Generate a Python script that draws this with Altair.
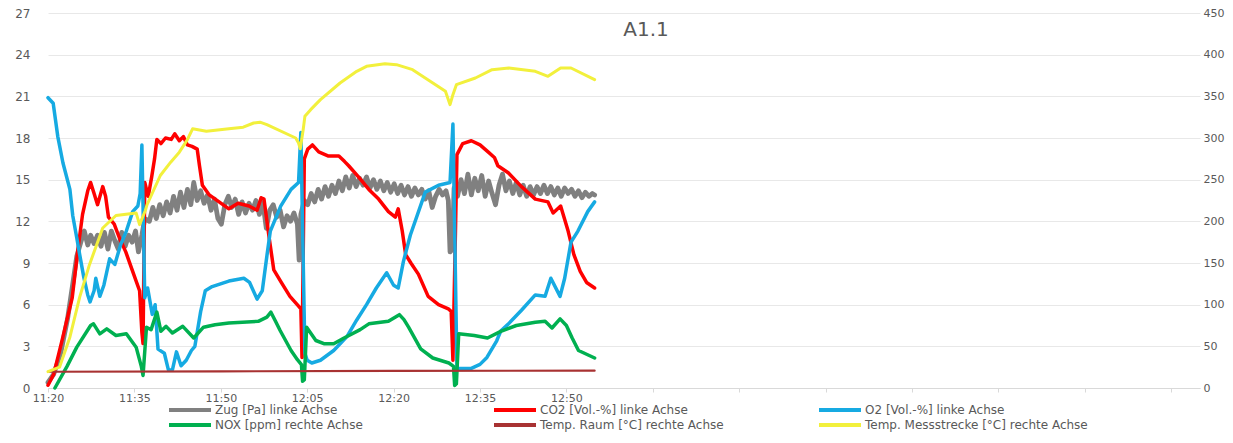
import altair as alt
import pandas as pd

# time = minutes after 11:20
names = ["Zug [Pa] linke Achse", "CO2 [Vol.-%] linke Achse", "O2 [Vol.-%] linke Achse",
         "NOX [ppm] rechte Achse", "Temp. Raum [°C] rechte Achse", "Temp. Messstrecke [°C] rechte Achse"]
colors = ["#808080", "#ff0000", "#16aae2", "#00b050", "#a83232", "#f2f03c"]
widths = [4.8, 3.5, 3.5, 3.5, 2.2, 3]

zug_t = [0, 1, 2.2, 3.4, 4.3, 5.0, 5.7, 6.3, 6.9, 7.4, 8.0, 8.6, 9.2, 9.8, 10.4, 11.0, 11.6, 12.2, 12.8,
         13.4, 14.0, 14.6, 15.2, 15.7, 16.3, 16.8, 17.6, 18.2, 18.8, 19.4, 20.0, 20.6, 21.2, 21.8, 22.4,
         23.0, 23.6, 24.2, 24.8, 25.3, 25.9, 26.5, 27.1, 27.7, 28.3, 28.9, 29.5, 30.1, 30.7, 31.3, 31.9,
         32.5, 33.1, 33.7, 34.3, 34.9, 35.5, 36.1, 36.7, 37.3, 37.9, 38.5, 39.1, 39.7, 40.3, 40.9, 41.5,
         42.1, 42.7, 43.3, 43.6, 43.9, 44.5, 45.1, 45.7, 46.3, 46.9, 47.5, 48.1, 48.7, 49.3, 49.9, 50.5,
         51.1, 51.7, 52.3, 52.9, 53.5, 54.1, 54.7, 55.3, 55.9, 56.5, 57.1, 57.7, 58.3, 58.9, 59.5, 60.1,
         60.7, 61.3, 61.9, 62.5, 63.1, 63.7, 64.3, 64.9, 65.5, 66.1, 66.7, 67.3, 67.9, 68.5, 69.1, 69.5,
         69.8, 70.2, 70.5, 71.1, 71.7, 72.3, 72.9, 73.5, 74.1, 74.7, 75.3, 75.9, 76.5, 77.1, 77.7, 78.3,
         78.9, 79.5, 80.1, 80.7, 81.3, 81.9, 82.5, 83.1, 83.7, 84.3, 84.9, 85.5, 86.1, 86.7, 87.3, 87.9,
         88.5, 89.1, 89.7, 90.3, 90.9, 91.5, 92.1, 92.7, 93.3, 93.9, 94.5, 94.9]
zug_v = [0.4, 1.0, 2.5, 5.0, 7.5, 9.5, 10.5, 11.3, 10.3, 11.0, 10.4, 11.0, 10.2, 11.2, 10.0, 11.3, 10.6,
         10.0, 11.2, 10.2, 11.0, 10.5, 11.3, 9.8, 11.0, 12.2, 12.0, 13.0, 12.2, 13.2, 12.4, 13.4, 12.6,
         13.8, 12.8, 14.1, 13.0, 14.3, 13.2, 14.8, 13.5, 14.2, 13.3, 13.9, 12.8, 13.6, 12.2, 11.8, 13.2,
         13.8, 13.0, 13.6, 12.5, 13.4, 12.6, 13.3, 12.8, 13.5, 12.5, 13.4, 11.5, 12.8, 13.2, 12.3, 12.8,
         11.6, 12.4, 12.0, 12.6, 11.8, 9.2, 12.5, 13.5, 13.2, 14.0, 13.4, 14.3, 13.6, 14.5, 13.8, 14.6,
         14.0, 14.9, 14.2, 15.2, 14.4, 15.3, 14.5, 15.1, 14.6, 15.2, 14.4, 15.0, 14.3, 14.9, 14.2, 14.8,
         14.1, 14.7, 14.0, 14.6, 13.9, 14.5, 13.8, 14.4, 13.9, 14.3, 13.6, 14.2, 13.0, 13.8, 14.3, 13.9,
         14.2, 13.5, 9.8, 10.0, 14.4, 13.8, 15.0, 14.0, 15.4, 13.9, 15.1, 14.2, 15.3, 13.8, 14.9, 14.0,
         13.2, 14.6, 15.4, 14.2, 14.9, 14.0, 14.8, 13.9, 14.6, 13.8, 14.5, 13.9, 14.5, 14.0, 14.6, 14.0,
         14.5, 13.9, 14.4, 13.8, 14.4, 14.0, 14.3, 13.8, 14.2, 13.7, 14.1, 13.8, 14.0, 13.9]

co2_t = [0, 1, 2.6, 4.2, 5.2, 6.0, 6.9, 7.4, 8.0, 8.6, 9.5, 10.0, 10.5, 11.5, 12.4, 13.5, 14.7, 15.9,
         16.3, 16.5, 16.8, 17.4, 18.0, 18.5, 18.9, 19.6, 20.4, 21.4, 22.0, 22.8, 23.5, 24.2, 25.0, 25.9,
         26.3, 26.8, 28.0, 29.7, 31.4, 33.0, 34.9, 36.3, 37.0, 37.5, 38.4, 39.2, 40.5, 42.0, 43.5, 43.9,
         44.1, 44.5, 45.1, 45.9, 47.0, 48.7, 50.5, 51.5, 52.2, 53.9, 55.7, 57.4, 59.1, 60.3, 60.8, 61.5,
         62.1, 63.0, 64.3, 66.0, 67.8, 69.5, 70.0, 70.3, 71.0, 72.0, 73.5, 75.0, 76.4, 77.5, 78.1, 79.9,
         82.2, 84.6, 86.8, 87.7, 89.0, 90.3, 91.3, 92.4, 93.5, 94.9]
co2_v = [0.2, 1.0, 3.7, 6.5, 10.0, 12.5, 14.2, 14.8, 14.0, 13.2, 14.5, 13.8, 12.3, 11.8, 10.8, 9.8, 8.4,
         7.0, 4.0, 3.2, 14.8, 13.8, 15.2, 16.5, 17.9, 17.6, 18.0, 17.9, 18.3, 17.8, 18.1, 17.5, 17.4, 17.2,
         16.0, 14.6, 13.9, 13.4, 12.9, 13.3, 13.1, 12.8, 13.7, 13.6, 10.8, 8.5, 7.6, 6.6, 5.9, 5.7, 2.2,
         16.5, 17.2, 17.5, 17.0, 16.7, 16.7, 16.3, 16.0, 15.2, 14.3, 13.6, 12.7, 12.3, 12.9, 11.3, 9.6,
         9.0, 8.2, 6.6, 6.0, 5.7, 5.5, 2.0, 16.8, 17.6, 17.8, 17.5, 17.0, 16.6, 16.0, 15.5, 14.5, 13.6,
         13.4, 12.6, 13.1, 11.3, 9.6, 8.4, 7.6, 7.2]

o2_t = [0, 0.9, 1.7, 2.6, 3.8, 4.3, 5.0, 5.5, 6.2, 6.9, 7.3, 8.0, 8.3, 9.0, 9.7, 10.7, 11.6, 12.6, 13.6,
        14.7, 15.6, 16.0, 16.3, 16.8, 17.3, 18.1, 18.6, 19.1, 20.2, 20.9, 21.6, 22.3, 23.1, 24.0, 24.9,
        25.5, 26.5, 27.3, 28.5, 31.4, 34.0, 35.0, 36.3, 37.2, 38.0, 38.6, 40.4, 42.2, 43.5, 43.9, 44.6,
        45.0, 45.8, 47.3, 49.6, 51.9, 53.6, 55.3, 57.0, 58.8, 60.0, 60.8, 61.7, 62.9, 65.5, 67.8, 69.8,
        70.3, 71.0, 73.4, 75.0, 76.2, 77.9, 78.6, 79.9, 82.2, 84.6, 86.3, 87.3, 88.9, 89.7, 90.8, 92.0,
        93.7, 94.9]
o2_v = [20.9, 20.5, 18.1, 16.2, 14.3, 12.4, 10.8, 9.6, 8.0, 6.7, 6.2, 7.0, 7.9, 6.6, 7.4, 9.3, 8.9, 10.3,
        11.3, 12.7, 13.1, 14.0, 17.5, 6.5, 7.2, 5.3, 6.0, 2.8, 2.5, 1.3, 1.3, 2.6, 1.6, 2.0, 2.7, 3.0,
        5.5, 7.0, 7.3, 7.7, 7.9, 7.6, 6.4, 7.0, 9.5, 11.3, 13.1, 14.3, 14.8, 18.4, 2.5, 2.0, 1.8, 2.0,
        2.7, 3.7, 4.9, 6.0, 7.2, 8.3, 7.4, 7.2, 9.1, 11.0, 14.1, 14.6, 14.8, 19.0, 1.4, 1.4, 1.7, 2.2,
        3.4, 4.1, 4.6, 5.6, 6.7, 6.6, 7.9, 6.6, 7.9, 10.5, 11.3, 12.7, 13.4]

nox_t = [1.2, 3.3, 5.0, 7.4, 7.9, 9.0, 10.2, 11.8, 13.6, 15.3, 16.2, 16.5, 17.1, 17.9, 18.9, 19.6, 20.5,
         21.6, 23.4, 25.3, 27.0, 29.0, 31.4, 36.5, 38.0, 38.7, 39.5, 40.3, 42.2, 43.3, 44.0, 44.2, 44.5,
         44.9, 46.5, 48.0, 49.6, 51.4, 54.2, 55.7, 59.1, 61.0, 61.8, 62.6, 64.7, 66.8, 69.6, 70.4, 70.6,
         70.9, 71.3, 74.0, 76.3, 78.6, 81.3, 84.6, 86.3, 87.5, 88.9, 90.0, 91.0, 92.1, 94.9]
nox_v = [0, 26, 49, 75, 77, 65, 71, 63, 65, 49, 26, 15, 73, 70, 91, 68, 74, 66, 74, 60, 73, 76, 78, 80,
         85, 91, 80, 69, 45, 34, 28, 8, 10, 73, 57, 53, 53, 60, 70, 77, 80, 88, 82, 73, 47, 36, 30, 26,
         3, 5, 65, 63, 60, 68, 75, 79, 80, 72, 83, 75, 60, 45, 36]

raum_t = [0, 30, 60, 94.9]
raum_v = [19.5, 20.0, 20.5, 20.8]

mess_t = [0, 2.0, 3.8, 5.5, 7.2, 9.5, 11.8, 15.3, 15.9, 16.9, 17.2, 19.5, 21.3, 22.8, 24.2, 25.1, 27.5,
          31.4, 33.9, 35.7, 36.8, 38.0, 43.0, 43.5, 43.8, 44.3, 44.6, 45.6, 47.3, 50.7, 53.6, 55.3, 58.5,
          60.5, 63.3, 69.0, 69.8, 70.3, 70.9, 74.2, 77.1, 80.0, 84.6, 86.8, 89.0, 90.8, 94.9]
mess_v = [19.6, 25, 61, 109, 148, 192, 207, 210, 196, 213, 220, 255, 271, 283, 298, 311, 308, 311, 313,
          318, 319, 316, 300, 294, 287, 310, 326, 334, 346, 366, 380, 386, 389, 388, 382, 356, 340, 352,
          364, 372, 382, 384, 380, 374, 384, 384, 370]

series_t = [zug_t, co2_t, o2_t, nox_t, raum_t, mess_t]
series_v = [zug_v, co2_v, o2_v, nox_v, raum_v, mess_v]

frames = []
for i, (n, ts, vs) in enumerate(zip(names, series_t, series_v)):
    frames.append(pd.DataFrame({"t": ts, "v": vs, "series": n, "idx": range(len(ts))}))

# legend fills column by column (2 rows): order entries so rows read like the reference
legend_order = [0, 3, 1, 4, 2, 5]
dom = [names[i] for i in legend_order]
rng = [colors[i] for i in legend_order]

FONT = "DejaVu Sans"
GREY = "#595959"
PLOT_H = 375

color = alt.Color("series:N", scale=alt.Scale(domain=dom, range=rng),
                  legend=alt.Legend(title=None, orient="none", legendX=135, legendY=PLOT_H + 15,
                                    columns=3,
                                    symbolType="M-4.2,0H4.2", symbolSize=100, symbolStrokeWidth=4,
                                    labelFontSize=12, labelColor=GREY, labelFont=FONT,
                                    columnPadding=48, rowPadding=-2, gridAlign="all",
                                    labelOffset=18, labelLimit=400))

xenc = alt.X("t:Q", scale=alt.Scale(domain=[0, 200], nice=False, zero=False),
             axis=alt.Axis(values=list(range(0, 200, 15)), title=None, grid=False, labelFlush=False,
                           labelExpr="datum.value <= 95 ? (floor((680 + datum.value) / 60) + ':' + ((680 + datum.value) % 60 < 10 ? '0' : '') + ((680 + datum.value) % 60)) : ''",
                           domainColor="#d9d9d9", tickColor="#d9d9d9", tickSize=4, labelPadding=0,
                           labelColor=GREY, labelFontSize=11, labelFont=FONT))

def layer_for(i, yenc):
    return alt.Chart(frames[i]).mark_line(strokeWidth=widths[i], strokeJoin="round", strokeCap="round").encode(
        x=xenc, y=yenc, color=color, order="idx:Q")

yleft = alt.Y("v:Q", scale=alt.Scale(domain=[0, 27], nice=False),
              axis=alt.Axis(values=list(range(0, 28, 3)), title=None, domain=False, ticks=False,
                            gridColor="#e8e8e8", labelPadding=18, labelColor=GREY,
                            labelFontSize=12, labelFont=FONT))
yright = alt.Y("v:Q", scale=alt.Scale(domain=[0, 450], nice=False),
               axis=alt.Axis(values=list(range(0, 451, 50)), title=None, domain=False, ticks=False,
                             grid=False, orient="right", labelPadding=3, labelColor=GREY,
                             labelFontSize=11, labelFont=FONT))

left = alt.layer(*[layer_for(i, yleft) for i in range(3)])
right = alt.layer(*[layer_for(i, yright) for i in range(3, 6)])

chart = alt.layer(left, right).resolve_scale(y="independent").properties(
    width=1152, height=PLOT_H,
    title=alt.TitleParams(text="A1.1", fontSize=20, fontWeight="normal", color=GREY, font=FONT,
                          anchor="middle", frame="group", offset=-33, dx=22),
    autosize=alt.AutoSizeParams(type="none"),
    padding={"left": 40, "top": 5, "right": 25, "bottom": 427 - 5 - PLOT_H},
    background="white",
).configure_view(stroke=None)

chart.save("out.html", embed_options={"renderer": "svg", "actions": False})
